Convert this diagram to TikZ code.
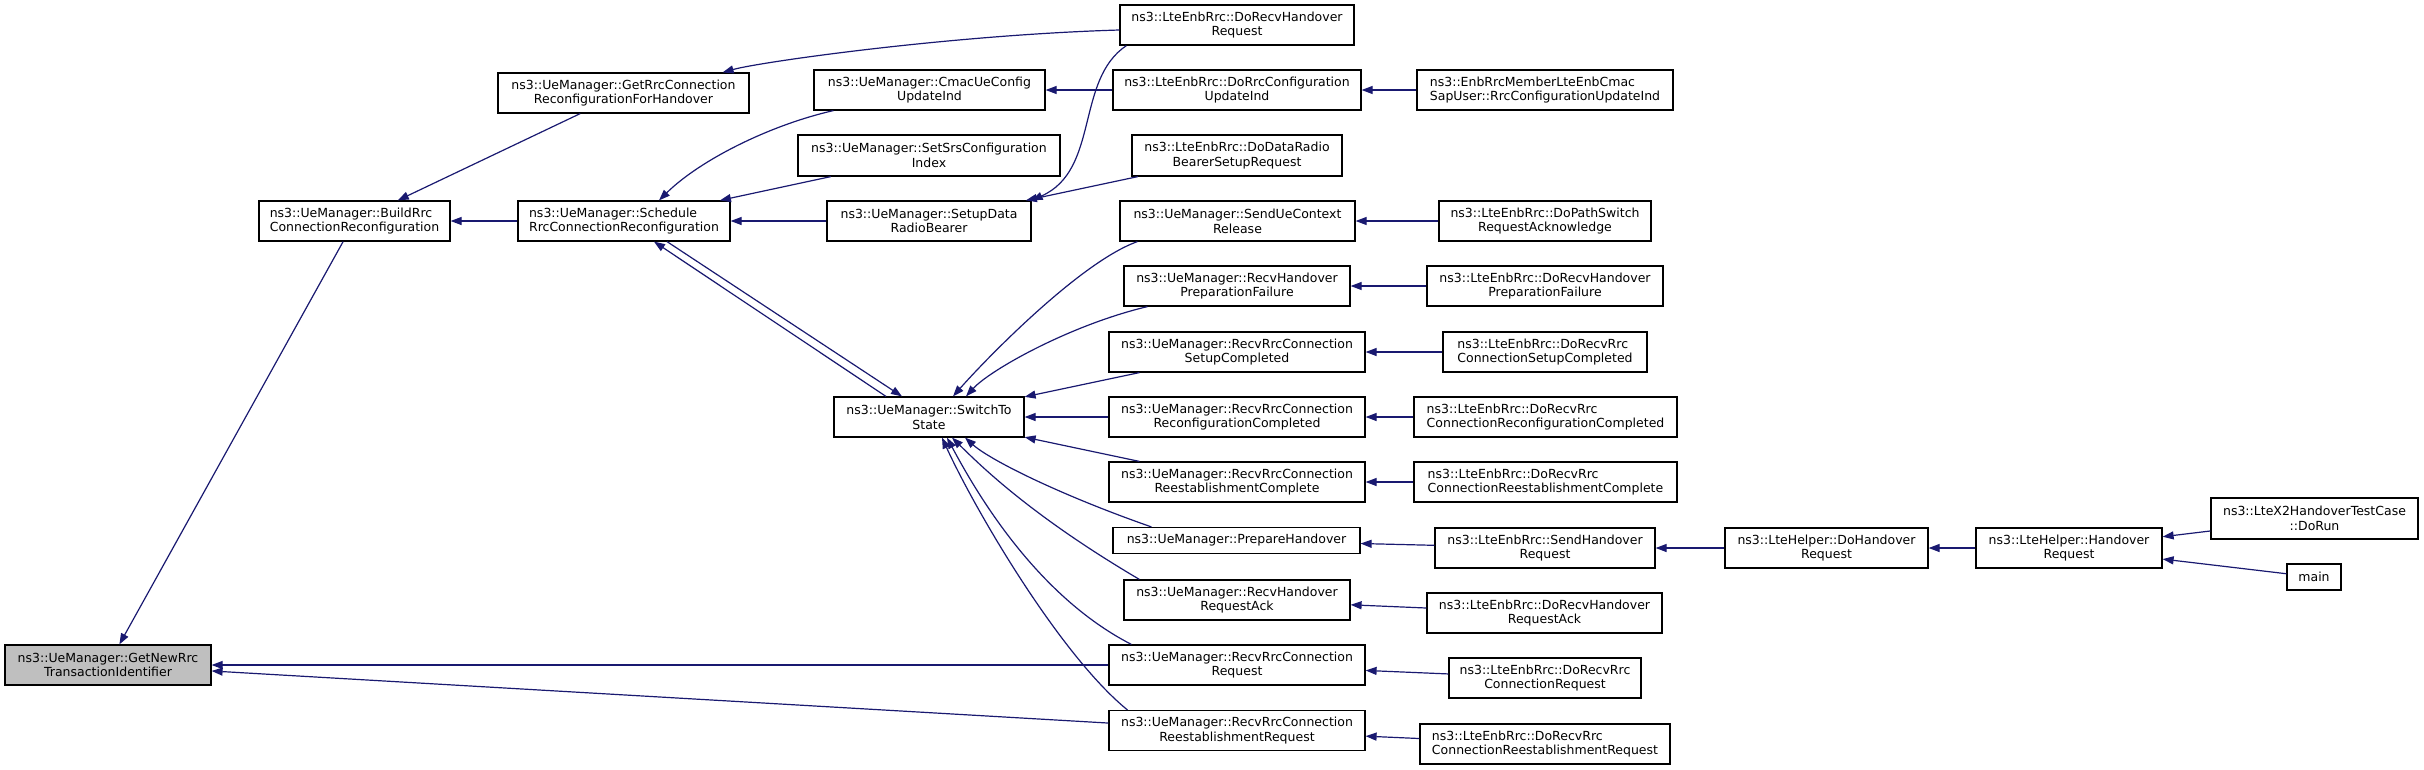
\documentclass[tikz,border=0pt]{standalone}
\usepackage{fontspec}
\setmainfont{DejaVu Sans}
\usetikzlibrary{arrows.meta}
\definecolor{edgec}{HTML}{191970}
\definecolor{grayfill}{HTML}{BFBFBF}
\begin{document}
\begin{tikzpicture}[x=1pt,y=-1pt,
 box/.style={draw=black, line width=1.2pt, fill=white, inner sep=0pt, align=center,
   font=\fontsize{12.5}{14.7}\selectfont, minimum height=40pt},
 lbox/.style={box, align=left},
 edge/.style={draw=edgec, line width=1.2pt, {Triangle[length=11pt,width=8pt]}-},
]
\useasboundingbox (0,0) rectangle (2424,769);
% column 1
\node[box, fill=grayfill, minimum width=206pt] (getnew) at (108,665) {ns3::UeManager::GetNewRrc\\TransactionIdentifier};
% column 2
\node[lbox, minimum width=191pt] (build) at (354.5,221) {ns3::UeManager::BuildRrc\\ConnectionReconfiguration};
% column 3
\node[box, minimum width=251pt] (gethand) at (623.5,93) {ns3::UeManager::GetRrcConnection\\ReconfigurationForHandover};
\node[lbox, minimum width=212pt] (sched) at (624,221) {ns3::UeManager::Schedule\\RrcConnectionReconfiguration};
% column 4
\node[box, minimum width=231pt] (cmac) at (929.5,90) {ns3::UeManager::CmacUeConfig\\UpdateInd};
\node[box, minimum width=262pt, minimum height=41pt] (setsrs) at (929,155.5) {ns3::UeManager::SetSrsConfiguration\\Index};
\node[box, minimum width=204pt] (sdrb) at (929,221) {ns3::UeManager::SetupData\\RadioBearer};
\node[box, minimum width=190pt] (switch) at (929,417) {ns3::UeManager::SwitchTo\\State};
% column 5
\node[box, minimum width=234pt] (dorecvho) at (1237,25) {ns3::LteEnbRrc::DoRecvHandover\\Request};
\node[box, minimum width=248pt] (dorrcconf) at (1237,90) {ns3::LteEnbRrc::DoRrcConfiguration\\UpdateInd};
\node[box, minimum width=210pt, minimum height=41pt] (doddrb) at (1237,155.5) {ns3::LteEnbRrc::DoDataRadio\\BearerSetupRequest};
\node[box, minimum width=235pt] (sendue) at (1237.5,221) {ns3::UeManager::SendUeContext\\Release};
\node[box, minimum width=226pt] (rhpf) at (1237,286) {ns3::UeManager::RecvHandover\\PreparationFailure};
\node[box, minimum width=256pt] (rrcsetup) at (1237,352) {ns3::UeManager::RecvRrcConnection\\SetupCompleted};
\node[box, minimum width=256pt] (rrcreconf) at (1237,417) {ns3::UeManager::RecvRrcConnection\\ReconfigurationCompleted};
\node[box, minimum width=256pt] (rrcreestc) at (1237,482) {ns3::UeManager::RecvRrcConnection\\ReestablishmentComplete};
\node[box, minimum width=247pt, minimum height=26pt] (prephand) at (1236.5,540.5) {ns3::UeManager::PrepareHandover};
\node[box, minimum width=226pt] (rhra) at (1237,600) {ns3::UeManager::RecvHandover\\RequestAck};
\node[box, minimum width=256pt] (rrcreq) at (1237,665) {ns3::UeManager::RecvRrcConnection\\Request};
\node[box, minimum width=256pt] (rrcreestreq) at (1237,730.5) {ns3::UeManager::RecvRrcConnection\\ReestablishmentRequest};
% column 6
\node[lbox, minimum width=256pt] (enbrrc) at (1545,90) {ns3::EnbRrcMemberLteEnbCmac\\SapUser::RrcConfigurationUpdateInd};
\node[box, minimum width=212pt] (dopath) at (1545,221) {ns3::LteEnbRrc::DoPathSwitch\\RequestAcknowledge};
\node[box, minimum width=236pt] (dorhpf) at (1545,286) {ns3::LteEnbRrc::DoRecvHandover\\PreparationFailure};
\node[lbox, minimum width=204pt] (dorrcsetup) at (1545,352) {ns3::LteEnbRrc::DoRecvRrc\\ConnectionSetupCompleted};
\node[lbox, minimum width=263pt] (dorrcreconf) at (1545.5,417) {ns3::LteEnbRrc::DoRecvRrc\\ConnectionReconfigurationCompleted};
\node[lbox, minimum width=263pt] (dorrcreestc) at (1545.5,482) {ns3::LteEnbRrc::DoRecvRrc\\ConnectionReestablishmentComplete};
\node[box, minimum width=220pt] (sendho) at (1545,548) {ns3::LteEnbRrc::SendHandover\\Request};
\node[box, minimum width=235pt] (dorhra) at (1544.5,613) {ns3::LteEnbRrc::DoRecvHandover\\RequestAck};
\node[box, minimum width=192pt] (dorrcreq) at (1545,678) {ns3::LteEnbRrc::DoRecvRrc\\ConnectionRequest};
\node[lbox, minimum width=250pt] (dorrcreestreq) at (1545,744) {ns3::LteEnbRrc::DoRecvRrc\\ConnectionReestablishmentRequest};
% columns 7-9
\node[box, minimum width=203pt] (dohandreq) at (1826.5,548) {ns3::LteHelper::DoHandover\\Request};
\node[box, minimum width=186pt] (handreq) at (2069,548) {ns3::LteHelper::Handover\\Request};
\node[box, minimum width=207pt, minimum height=41pt] (x2) at (2314.5,518.5) {ns3::LteX2HandoverTestCase\\::DoRun};
\node[box, minimum width=54pt, minimum height=26pt] (main) at (2314,577) {main};

% edges (arrow at callee)
\draw[edge] (getnew) -- (build);
\draw[edge] (getnew) -- (rrcreq);
\draw[edge] (getnew) -- (rrcreestreq);
\draw[edge] (build) -- (gethand);
\draw[edge] (build) -- (sched);
\draw[edge] ([xshift=-27pt]gethand.north east) .. controls (760,62) and (950,35) .. ([yshift=-5pt]dorecvho.west);
\draw[edge] ([xshift=35pt]sched.north) .. controls (700,160) and (770,125) .. ([xshift=20pt]cmac.south west);
\draw[edge] (sched) -- (setsrs);
\draw[edge] (sched) -- (sdrb);
\draw[edge] ([xshift=30pt]sched.south) -- ([xshift=-43pt]switch.north);
\draw[edge] ([xshift=-27pt]switch.north) -- ([xshift=43pt]sched.south);
\draw[edge] (sdrb.north east) .. controls (1100,170) and (1075,80) .. ([xshift=7pt]dorecvho.south west);
\draw[edge] (sdrb) -- (doddrb);
\draw[edge] (cmac) -- (dorrcconf);
\draw[edge] (dorrcconf) -- (enbrrc);
\draw[edge] (sendue) -- (dopath);
\draw[edge] ([xshift=24pt]switch.north) .. controls (985,360) and (1080,262) .. ([xshift=18pt]sendue.south west);
\draw[edge] ([xshift=37pt]switch.north) .. controls (990,370) and (1070,325) .. ([xshift=24pt]rhpf.south west);
\draw[edge] (switch) -- (rrcsetup);
\draw[edge] (switch) -- (rrcreconf);
\draw[edge] (switch) -- (rrcreestc);
\draw[edge] ([xshift=36pt]switch.south) .. controls (990,460) and (1060,495) .. ([xshift=39pt]prephand.north west);
\draw[edge] ([xshift=23pt]switch.south) .. controls (980,465) and (1030,515) .. ([xshift=16pt]rhra.north west);
\draw[edge] ([xshift=18pt]switch.south) .. controls (975,490) and (1035,595) .. ([xshift=23pt]rrcreq.north west);
\draw[edge] ([xshift=13pt]switch.south) .. controls (975,510) and (1060,655) .. ([xshift=19pt]rrcreestreq.north west);
\draw[edge] (rhpf) -- (dorhpf);
\draw[edge] (rrcsetup) -- (dorrcsetup);
\draw[edge] (rrcreconf) -- (dorrcreconf);
\draw[edge] (rrcreestc) -- (dorrcreestc);
\draw[edge] (prephand) -- (sendho);
\draw[edge] (sendho) -- (dohandreq);
\draw[edge] (dohandreq) -- (handreq);
\draw[edge] (handreq) -- (x2);
\draw[edge] (handreq) -- (main);
\draw[edge] (rhra) -- (dorhra);
\draw[edge] (rrcreq) -- (dorrcreq);
\draw[edge] (rrcreestreq) -- (dorrcreestreq);
\end{tikzpicture}
\end{document}
